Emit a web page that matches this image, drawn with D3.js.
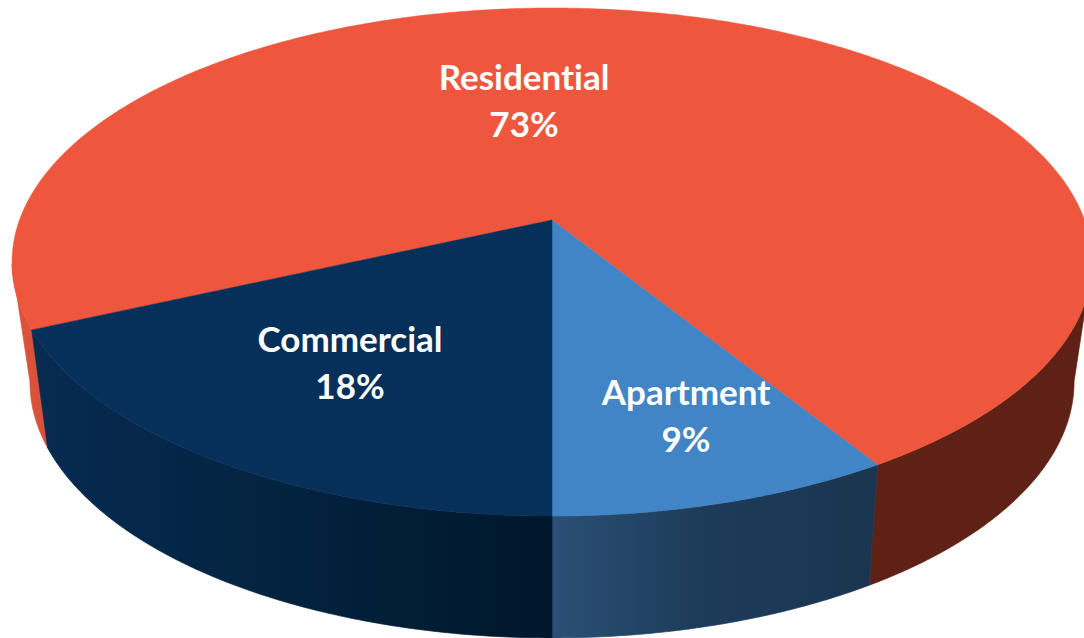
<!DOCTYPE html>
<html>
<head>
<meta charset="utf-8">
<script src="https://cdn.jsdelivr.net/npm/d3@7"></script>
<style>
  html, body { margin: 0; padding: 0; background: #fff; overflow: hidden; }
  text { font-family: Lato, "Open Sans", sans-serif; font-weight: 700; fill: #fff; font-variant-ligatures: none; }
</style>
</head>
<body>
<script>
// the labels show them rounded
var categories = ["Residential", "Apartment", "Commercial"];
var shares = [73, 8.8, 18.2];

var w = 1084, h = 638;

// perspective of the disc: x = cx + R*u/(1+c*v), y = (a*v+b)/(1+c*v)
var topRim = { R: 532.5, c: -0.1654, a: 210.7, b: 220 };
var bottomRim = { R: 514, c: -0.175, a: 189.3, b: 337 };
var cx = 552;

var startAngle = 245.52 * Math.PI / 180;
// only this part of the turn faces the viewer
var frontFrom = 100 * Math.PI / 180, frontTo = 260 * Math.PI / 180;

var topColors = { Residential: "#ee573d", Apartment: "#4285c6", Commercial: "#06305a" };
var wallStops = {
  Residential: [[0, "#e0533a"], [0.06, "#d4503a"], [0.07, "#5f2116"], [1, "#5f2116"]],
  Apartment: [[0, "#2a5075"], [0.45, "#1d3c5a"], [1, "#1a3550"]],
  Commercial: [[0, "#062b50"], [0.5, "#03223e"], [1, "#00172b"]]
};
var wallRange = {
  Residential: [0, 1084],
  Apartment: [552, 870],
  Commercial: [43, 552]
};
// label centres, moved by hand in the original
var labelPos = {
  Residential: [524, 78],
  Apartment: [686, 393],
  Commercial: [350, 340]
};

function project(theta, rim) {
  var u = Math.sin(theta), v = -Math.cos(theta);
  var k = 1 + rim.c * v;
  return [cx + rim.R * u / k, (rim.a * v + rim.b) / k];
}

function sampleAngles(a0, a1) {
  var n = Math.ceil(Math.abs(a1 - a0) / 0.01);
  return d3.range(n + 1).map(function(i) {
    return a0 + (a1 - a0) * i / n;
  });
}

// the parts of a slice's rim that are on the near side
function frontPieces(s) {
  var pieces = [];
  [0, 2 * Math.PI].forEach(function(turn) {
    var a0 = Math.max(s.startAngle, frontFrom + turn);
    var a1 = Math.min(s.endAngle, frontTo + turn);
    if (a1 > a0) pieces.push([a0, a1]);
  });
  return pieces;
}

function main() {
  var svg = d3.select("body").append("svg")
    .attr("width", w)
    .attr("height", h)
    .style("display", "block");

  var pie = d3.pie()
    .sort(null)
    .startAngle(startAngle)
    .endAngle(startAngle + 2 * Math.PI);
  var slices = pie(shares);
  slices.forEach(function(s, i) { s.name = categories[i]; });

  var line = d3.line();
  var defs = svg.append("defs");

  slices.forEach(function(s) {
    var grad = defs.append("linearGradient")
      .attr("id", "wall-" + s.name)
      .attr("gradientUnits", "userSpaceOnUse")
      .attr("x1", wallRange[s.name][0])
      .attr("x2", wallRange[s.name][1])
      .attr("y1", 0)
      .attr("y2", 0);
    wallStops[s.name].forEach(function(stop) {
      grad.append("stop").attr("offset", stop[0]).attr("stop-color", stop[1]);
    });
  });

  // walls first, the top faces hide whatever is behind
  svg.append("g").selectAll("path")
    .data(slices)
    .enter()
    .append("path")
    .attr("d", function(s) {
      return frontPieces(s).map(function(p) {
        var angles = sampleAngles(p[0], p[1]);
        var upper = angles.map(function(a) { return project(a, topRim); });
        var lower = angles.slice().reverse().map(function(a) { return project(a, bottomRim); });
        return line(upper.concat(lower)) + "Z";
      }).join("");
    })
    .attr("fill", function(s) { return "url(#wall-" + s.name + ")"; })
    .attr("stroke", function(s) { return "url(#wall-" + s.name + ")"; })
    .attr("stroke-width", 0.7);

  svg.append("g").selectAll("path")
    .data(slices)
    .enter()
    .append("path")
    .attr("d", function(s) {
      var rim = sampleAngles(s.startAngle, s.endAngle).map(function(a) { return project(a, topRim); });
      return line([[cx, topRim.b]].concat(rim)) + "Z";
    })
    .attr("fill", function(s) { return topColors[s.name]; })
    .attr("stroke", function(s) { return topColors[s.name]; })
    .attr("stroke-width", 0.5);

  var labels = svg.append("g").selectAll("g")
    .data(slices)
    .enter()
    .append("g")
    .attr("transform", function(s) {
      return "translate(" + labelPos[s.name][0] + "," + labelPos[s.name][1] + ")";
    })
    .attr("text-anchor", "middle");
  labels.append("text")
    .attr("dy", 12)
    .attr("font-size", 35)
    .text(function(s) { return s.name; });
  labels.append("text")
    .attr("y", 47)
    .attr("dy", 12)
    .attr("font-size", 35)
    .text(function(s) { return Math.round(s.value) + "%"; });
}
main();
</script>
</body>
</html>
